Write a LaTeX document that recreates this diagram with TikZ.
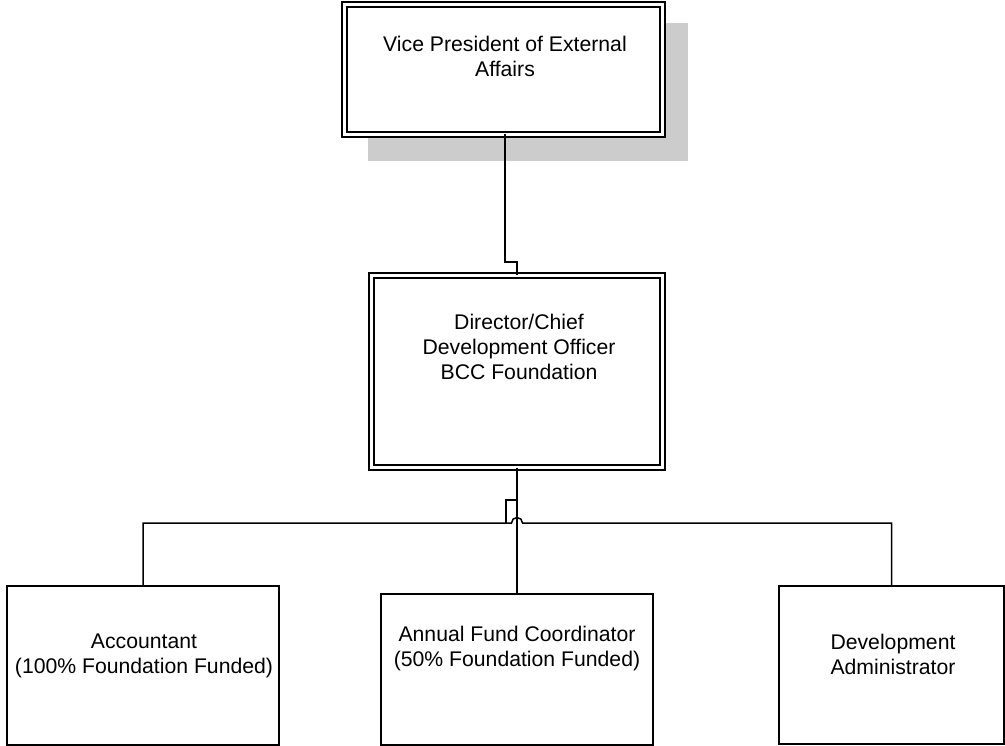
\documentclass[tikz,border=0pt]{standalone}
\usepackage{fontspec}
\setmainfont{Liberation Sans}
\begin{document}
\begin{tikzpicture}[x=1pt,y=-1pt,line width=1.5pt,
  box/.style={draw,fill=white,rectangle,inner sep=0pt,outer sep=0pt},
  dbox/.style={box,double,double distance=3.5pt},
  lbl/.style={anchor=north,align=center,inner sep=0pt,font=\fontsize{21.2}{25}\selectfont},
  shade/.style={fill=gray!40,rectangle,inner sep=0pt,outer sep=0pt}]
\useasboundingbox (0,0) rectangle (1005,746);
\fill[white] (0,0) rectangle (1005,746);
% shadow and boxes
\node[shade,minimum width=320pt,minimum height=138pt] (shadow) at (528,92) {};
\node[dbox,minimum width=318pt,minimum height=130pt] (vp) at (503.5,69.5) {};
\node[dbox,minimum width=291pt,minimum height=192pt] (dir) at (517,371.5) {};
\node[box,minimum width=272pt,minimum height=159pt] (acc) at (143,665.5) {};
\node[box,minimum width=272pt,minimum height=151pt] (afc) at (517,669.5) {};
\node[box,minimum width=225pt,minimum height=158pt] (dev) at (891.5,665) {};
% texts
\node[lbl] (vpt) at (505,35) {Vice President of External\\Affairs};
\node[lbl] (dirt) at (519,313) {Director/Chief\\Development Officer\\BCC Foundation};
\node[lbl] (acct) at (144,633) {Accountant\\(100\% Foundation Funded)};
\node[lbl] (afct) at (517,625) {Annual Fund Coordinator\\(50\% Foundation Funded)};
\node[lbl] (devt) at (893,633) {Development\\Administrator};
% connectors
\coordinate (j1) at (505,262);
\coordinate (j2) at (506,500);
\coordinate (bar) at (0,523);
\coordinate (hop) at (511.5,523);
\draw (vp.south -| j1) -- (j1) -| (dir.north);
\draw (dir.south) |- (j2) -- (j2 |- bar);
\draw (dir.south) -- (dir.south |- afc.north);
\draw (acc.north) |- (hop) arc[start angle=180,end angle=360,radius=5.5] -| (dev.north);
\end{tikzpicture}
\end{document}
